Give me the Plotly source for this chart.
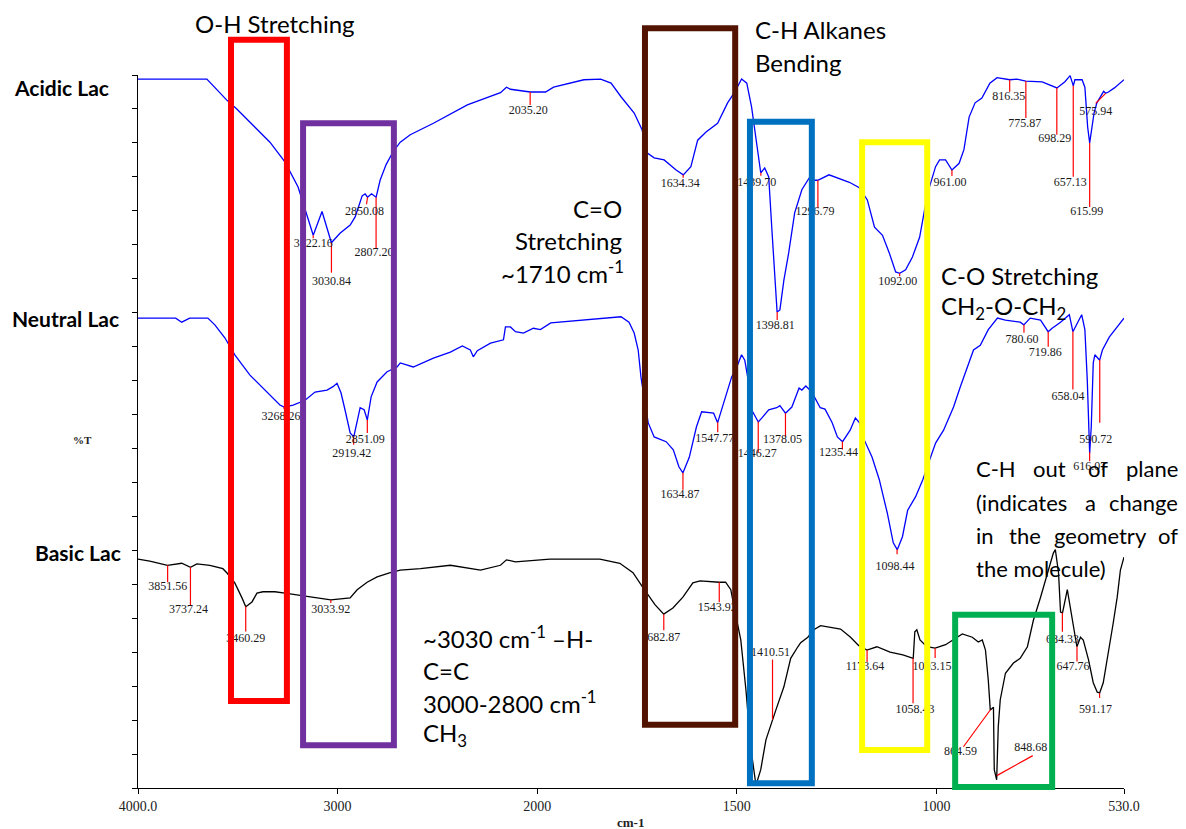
import numpy as np
import plotly.graph_objects as go

# ---------------- data ----------------
acidic_wn = [4000, 3655, 3555, 3505, 3339, 3264, 3198, 3122, 3078, 3031, 2988, 2937, 2912, 2877, 2862, 2850, 2830, 2807,
             2787, 2757, 2722, 2686, 2636, 2520, 2350, 2184, 2154, 2134, 2035, 1979, 1959, 1883, 1841, 1815, 1790, 1757,
             1737, 1724, 1707, 1682, 1652, 1634, 1615, 1598, 1577, 1548, 1523, 1505, 1488, 1475, 1463, 1450, 1440, 1430,
             1420, 1412, 1405, 1399, 1392, 1382, 1370, 1355, 1337, 1319, 1304, 1297, 1269, 1254, 1218, 1193, 1173, 1155,
             1135, 1118, 1102, 1092, 1077, 1060, 1042, 1022, 1017, 1002, 992, 977, 961, 943, 931, 918, 903, 886, 866,
             848, 816, 798, 776, 735, 698, 678, 665, 657, 653, 635, 628, 621, 616, 608, 605, 598, 589, 581, 576, 569,
             554, 530]
acidic_t = [104.4, 104.4, 101.3, 100.0, 95.1, 92.2, 88.5, 81.4, 84.9, 80.3, 81.7, 82.9, 84.1, 87.2, 87.5, 87.0, 87.5, 87.0,
            89.5, 91.8, 93.7, 95.1, 96.2, 97.9, 100.6, 102.4, 103.2, 102.9, 102.5, 102.5, 103.2, 104.3, 104.4, 103.8, 101.8, 99.4,
            96.9, 93.5, 92.8, 92.5, 91.0, 90.3, 91.5, 95.4, 96.6, 97.9, 100.9, 102.5, 104.4, 103.8, 100.3, 94.4, 90.6, 91.3,
            90.0, 82.2, 74.8, 70.1, 70.4, 74.8, 78.8, 84.7, 88.1, 89.8, 89.5, 89.5, 90.3, 90.0, 89.2, 88.4, 86.6, 82.6,
            81.4, 78.8, 76.0, 75.8, 76.3, 78.2, 81.1, 87.6, 88.5, 91.5, 92.5, 92.5, 91.0, 92.0, 94.0, 98.8, 100.9, 101.6, 103.8,
            104.6, 104.3, 104.4, 104.1, 104.0, 103.1, 104.0, 104.9, 103.4, 104.3, 104.3, 103.2, 97.3, 95.0, 97.9, 99.4, 100.9, 101.8, 102.6, 102.3, 102.5,
            103.1, 104.3]

neutral_wn = [4000, 3811, 3781, 3741, 3650, 3615, 3565, 3515, 3439, 3354, 3289, 3268, 3223, 3163, 3113, 3053, 3023, 3003,
              2983, 2963, 2937, 2919, 2907, 2887, 2867, 2851, 2832, 2802, 2752, 2702, 2686, 2621, 2520, 2435, 2375, 2335,
              2320, 2300, 2234, 2169, 2159, 2134, 2109, 2069, 2019, 1992, 1966, 1891, 1790, 1770, 1757, 1747, 1740, 1722,
              1707, 1677, 1659, 1645, 1635, 1619, 1601, 1588, 1558, 1548, 1533, 1513, 1500, 1488, 1480, 1470, 1463, 1446,
              1437, 1420, 1400, 1392, 1378, 1362, 1344, 1337, 1327, 1312, 1291, 1279, 1261, 1248, 1235, 1216, 1203, 1193,
              1181, 1161, 1143, 1123, 1108, 1098, 1085, 1072, 1052, 1034, 1017, 1002, 982, 957, 940, 922, 907, 890, 870,
              847, 827, 790, 781, 765, 739, 720, 710, 689, 667, 658, 652, 636, 628, 622, 616, 612, 607, 603, 591, 584,
              567, 552, 530]
neutral_t = [69.2, 69.2, 68.6, 69.2, 69.2, 68.2, 66.3, 63.8, 60.8, 58.3, 56.4, 56.1, 56.4, 57.1, 58.3, 58.6, 59.1, 59.6,
             58.2, 55.7, 52.3, 51.7, 53.2, 56.0, 55.7, 54.2, 57.6, 59.8, 61.3, 62.0, 62.6, 62.0, 63.3, 64.2, 65.1, 64.5,
             63.5, 64.4, 65.5, 66.0, 67.9, 67.9, 67.2, 67.0, 67.7, 67.5, 68.5, 68.9, 69.4, 68.6, 67.0, 64.5, 60.5, 53.8,
             51.7, 51.0, 49.8, 47.3, 46.4, 48.7, 53.2, 55.4, 55.2, 53.8, 56.7, 60.5, 62.0, 63.8, 63.0, 59.6, 55.7, 53.9,
             54.5, 55.7, 56.0, 56.3, 55.2, 56.1, 58.9, 58.6, 59.2, 58.3, 56.0, 55.8, 53.8, 51.7, 51.0, 52.7, 54.5, 53.8,
             51.3, 48.7, 45.4, 40.5, 36.1, 35.1, 37.0, 40.9, 42.9, 45.4, 48.3, 50.8, 52.7, 56.1, 59.1, 62.0, 64.5, 65.2, 67.5,
             69.2, 68.9, 68.6, 68.2, 69.2, 68.9, 67.2, 67.7, 68.6, 69.7, 67.2, 67.9, 69.7, 67.5, 60.1, 49.3, 53.2, 62.6, 63.8, 63.0, 64.5,
             66.4, 67.5, 69.2]

basic_wn = [4000, 3941, 3852, 3816, 3781, 3737, 3705, 3640, 3575, 3555, 3515, 3479, 3460, 3429, 3404, 3374, 3314, 3264,
            3188, 3113, 3034, 2937, 2902, 2852, 2802, 2736, 2686, 2585, 2435, 2284, 2184, 2154, 2109, 1968, 1843, 1793,
            1760, 1735, 1705, 1683, 1660, 1635, 1610, 1592, 1560, 1544, 1528, 1515, 1507, 1490, 1477, 1465, 1452, 1440,
            1427, 1411, 1402, 1382, 1365, 1347, 1340, 1322, 1307, 1290, 1265, 1240, 1215, 1195, 1174, 1149, 1116, 1084,
            1058, 1054, 1049, 1041, 1024, 1003, 977, 952, 935, 910, 895, 885, 877, 870, 865, 857, 855, 849, 845, 840,
            827, 807, 790, 772, 757, 739, 722, 707, 702, 694, 689, 684, 672, 664, 652, 648, 639, 632, 619, 607, 597,
            591, 582, 564, 557, 547, 539, 530]
basic_t = [33.7, 33.4, 32.8, 33.0, 33.1, 32.5, 33.0, 32.8, 32.3, 31.7, 30.2, 28.0, 26.7, 27.4, 28.7, 28.9, 28.9, 28.7,
           28.4, 28.1, 27.7, 28.0, 29.2, 30.3, 31.1, 31.7, 32.1, 32.3, 32.8, 32.1, 32.8, 33.6, 33.3, 33.7, 33.7, 33.1,
           31.7, 29.5, 27.0, 25.6, 26.5, 28.1, 30.2, 30.5, 30.3, 30.3, 30.3, 29.2, 26.7, 21.8, 14.4, 6.0, 0.4, 2.7,
           7.1, 10.0, 11.5, 14.9, 19.1, 20.8, 21.4, 22.2, 23.3, 23.9, 23.7, 23.4, 22.2, 21.0, 20.3, 20.8, 20.0, 19.6,
           19.1, 23.0, 23.3, 21.8, 20.8, 20.6, 21.1, 22.1, 22.7, 22.2, 21.5, 21.8, 20.3, 15.9, 11.5, 11.9, 2.7, 1.2, 9.0, 13.0,
           16.9, 18.4, 19.1, 20.8, 24.7, 28.1, 31.7, 34.6, 35.1, 31.7, 25.9, 25.8, 29.2, 26.2, 21.8, 20.8, 22.2, 21.8, 18.9, 15.5, 14.1,
           14.0, 15.5, 21.4, 24.3, 28.1, 32.1, 34.0]

acidic_peaks = [3122.16, 3030.84, 2850.08, 2807.20, 2035.20, 1634.34, 1439.70, 1398.81, 1296.79, 1092.00, 961.00,
                816.35, 775.87, 698.29, 657.13, 615.99, 575.94]
neutral_peaks = [3268.26, 2919.42, 2851.09, 1634.87, 1547.77, 1446.27, 1378.05, 1235.44, 1098.44, 780.60, 719.86,
                 658.04, 616.07, 590.72]
basic_peaks = [3851.56, 3737.24, 3460.29, 3033.92, 1682.87, 1543.92, 1410.51, 1173.64, 1058.43, 1003.15, 864.59,
               848.68, 684.33, 647.76, 591.17]

tick_wn = [4000, 3000, 2000, 1500, 1000, 530]
tick_text = ["4000.0", "3000", "2000", "1500", "1000", "530.0"]

# ---------------- styling / layout helpers ----------------
# (line_dx, line_dy, label_dx, label_dy) in pixels relative to the peak tip
acidic_style = [(0, 3, 0, 9), (0, 30, 0, 39), (-1, 7, -3, 15), (0, 51, -2, 56), (0, 13, -2, 19), (0, 3, -3, 9),
                (0, 3, -4, 10), (0, 8, -2, 14), (0, 28, -3, 32), (0, 3, -2, 9), (0, 6, -2, 13), (0, 12, -1, 17),
                (0, 37, -1, 43), (0, 47, -2, 51), (0, 91, -3, 97), (0, 64, -3, 69), (-10, 10, -10, 19)]
neutral_style = [(0, 2, -3, 10), (0, 8, -2, 17), (0, 13, -2, 20), (0, 17, -3, 22), (0, 10, -3, 17), (0, 31, -1, 32),
                 (0, 24, -3, 27), (0, 8, -4, 11), (0, 5, -2, 18), (0, 8, -2, 15), (0, 15, -3, 21), (0, 58, -5, 65),
                 (0, 9, 0, 15), (0, 63, -4, 80)]
basic_style = [(0, 17, 0, 22), (0, 38, -2, 43), (0, 25, 0, 32), (0, 3, 0, 10), (0, 16, -3, 24), (0, 20, -2, 26),
               (0, -60, -2, -67), (0, 12, -2, 17), (0, 45, 2, 52), (0, 10, -3, 19), (-27, 37, -30, 42),
               (36, -20, 34, -28), (0, 19, 0, 27), (0, 15, -4, 20), (0, 5, -4, 17)]

W, H = 1186, 829
ML, MR, MT, MB = 138, 62, 75, 41
PW, PH = W - ML - MR, H - MT - MB
U_MAX = 4940.0
Y_MAX = 105.0
PXU = PW / U_MAX
PXV = PH / Y_MAX


def to_u(wn):
    wn = np.asarray(wn, dtype=float)
    return np.where(wn >= 2000, 4000 - wn, 2000 + (2000 - wn) * 2)


fig = go.Figure()

series = [
    (acidic_wn, acidic_t, "#0000FF", acidic_peaks, acidic_style),
    (neutral_wn, neutral_t, "#0000FF", neutral_peaks, neutral_style),
    (basic_wn, basic_t, "#000000", basic_peaks, basic_style),
]

for wn, t, col, peaks, style in series:
    fig.add_trace(go.Scatter(x=to_u(wn), y=t, mode="lines", line=dict(color=col, width=1.3),
                             hoverinfo="skip"))

for wn, t, col, peaks, style in series:
    xs_inc = np.array(wn[::-1], dtype=float)
    ys_inc = np.array(t[::-1], dtype=float)
    lx, ly, tx, ty, tt = [], [], [], [], []
    for p, (ldx, ldy, tdx, tdy) in zip(peaks, style):
        tip_u = float(to_u(p))
        tip_v = float(np.interp(p, xs_inc, ys_inc))
        lx += [tip_u, tip_u + ldx / PXU, None]
        ly += [tip_v, tip_v - ldy / PXV, None]
        tx.append(tip_u + tdx / PXU)
        ty.append(tip_v - tdy / PXV)
        tt.append(f"{p:.2f}")
    fig.add_trace(go.Scatter(x=lx, y=ly, mode="lines", line=dict(color="#FF0000", width=1.2),
                             hoverinfo="skip"))
    fig.add_trace(go.Scatter(x=tx, y=ty, mode="text", text=tt, cliponaxis=False,
                             textfont=dict(family="Liberation Serif", size=12, color="#1a1a1a"),
                             hoverinfo="skip"))

# highlight boxes: (wn_left, wn_right, T_bottom, T_top, colour)
box_wn_left = [3534, 3173, 1730, 1467, 1186, 953]
box_wn_right = [3254, 2718, 1504, 1312, 1023, 710]
box_t_bottom = [12.8, 6.3, 9.3, 0.7, 5.6, 0.15]
box_t_top = [110.2, 97.9, 111.9, 98.1, 95.1, 25.5]
box_colors = ["#FF0000", "#7030A0", "#521400", "#0070C0", "#FFFF00", "#00B050"]

shapes = []
for x0, x1, y0, y1, c in zip(box_wn_left, box_wn_right, box_t_bottom, box_t_top, box_colors):
    shapes.append(dict(type="rect", xref="x", yref="paper", x0=float(to_u(x0)), x1=float(to_u(x1)),
                       y0=y0 / Y_MAX, y1=y1 / Y_MAX, line=dict(color=c, width=6), fillcolor="rgba(0,0,0,0)",
                       layer="above"))


def P(px, py):
    return (px - ML) / PW, (H - MB - py) / PH


anns = []


def ann(text, px, py, size=24, xanchor="left", family="Lato", color="#000", bold=False):
    x, y = P(px, py)
    if bold:
        text = f"<b>{text}</b>"
    anns.append(dict(text=text, x=x, y=y, xref="paper", yref="paper", xanchor=xanchor, yanchor="middle",
                     showarrow=False, font=dict(family=family, size=size, color=color)))


BIG = 24
ann("O-H Stretching", 193, 24, BIG)
ann("C-H Alkanes", 753, 29, BIG)
ann("Bending", 753, 62, BIG)
ann("C=O", 624, 208, BIG, xanchor="right")
ann("Stretching", 624, 240, BIG, xanchor="right")
ann("~1710 cm<sup>-1</sup>", 626, 272, BIG, xanchor="right")
ann("C-O Stretching", 939, 275, BIG)
ann("CH<sub>2</sub>-O-CH<sub>2</sub>", 939, 307, BIG)
ann("~3030 cm<sup>-1</sup> \u2013H-", 421, 637, BIG)
ann("C=C", 421, 670, BIG)
ann("3000-2800 cm<sup>-1</sup>", 421, 702, BIG)
ann("CH<sub>3</sub>", 421, 734, BIG)

SM = 22
for word, px, anchor in [("C-H", 974, "left"), ("out", 1031, "left"), ("of", 1086, "left"), ("plane", 1180, "right")]:
    ann(word, px, 468, SM, xanchor=anchor)
for word, px, anchor in [("(indicates", 974, "left"), ("a", 1083, "left"), ("change", 1180, "right")]:
    ann(word, px, 502, SM, xanchor=anchor)
for word, px, anchor in [("in", 974, "left"), ("the", 1007, "left"), ("geometry", 1052, "left"), ("of", 1180, "right")]:
    ann(word, px, 535, SM, xanchor=anchor)
ann("the molecule)", 974, 568, SM)

ann("Acidic Lac", 12, 87, 21, bold=True)
ann("Neutral Lac", 10, 318, 21, bold=True)
ann("Basic Lac", 33, 552, 21, bold=True)

ann("%T", 82, 440, 11, xanchor="center", family="Liberation Serif", color="#222", bold=True)
ann("cm-1", 630, 822, 13, xanchor="center", family="Liberation Serif", color="#222", bold=True)

fig.update_layout(
    width=W, height=H,
    margin=dict(l=ML, r=MR, t=MT, b=MB, pad=0),
    paper_bgcolor="white", plot_bgcolor="white",
    showlegend=False,
    shapes=shapes,
    annotations=anns,
    xaxis=dict(range=[0, U_MAX], tickmode="array", tickvals=to_u(tick_wn).tolist(), ticktext=tick_text,
               showline=True, linecolor="#000", linewidth=1, ticks="outside", ticklen=5, tickcolor="#000",
               showgrid=False, zeroline=False,
               tickfont=dict(family="Liberation Serif", size=14, color="#222")),
    yaxis=dict(range=[0, Y_MAX], tick0=0, dtick=5, showticklabels=False, showline=True, linecolor="#000",
               linewidth=1, ticks="outside", ticklen=5, tickcolor="#000", showgrid=False, zeroline=False),
)

fig.write_html("out.html", config={"displayModeBar": False},
               post_script="document.body.style.margin='0';document.body.style.overflow='hidden';")
